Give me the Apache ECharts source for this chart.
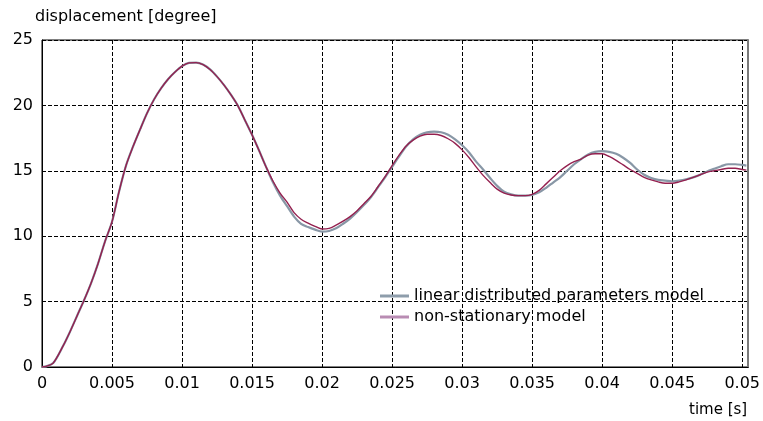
<!DOCTYPE html>
<html>
<head>
<meta charset="utf-8">
<script src="https://cdn.jsdelivr.net/npm/echarts@6/dist/echarts.min.js"></script>
<style>html,body{margin:0;padding:0;background:#fff;}#c{width:763px;height:421px;}</style>
</head>
<body>
<div id="c"></div>
<script>
// time [s]
const times = [0,0.0003,0.0008,0.0015,0.002,0.0025,0.003,0.0035,0.004,0.0045,0.005,0.0055,0.006,0.0065,0.007,0.0075,0.008,0.0085,0.009,0.0095,0.010,0.0105,0.011,0.0115,0.012,0.0125,0.013,0.0135,0.014,0.0145,0.015,0.0155,0.016,0.0165,0.017,0.0175,0.018,0.0185,0.019,0.0195,0.020,0.0205,0.021,0.0215,0.022,0.0225,0.023,0.0235,0.024,0.0245,0.025,0.0255,0.026,0.0265,0.027,0.0275,0.028,0.0285,0.029,0.0295,0.030,0.0305,0.031,0.0315,0.032,0.0325,0.033,0.0335,0.034,0.0345,0.035,0.0355,0.036,0.0365,0.037,0.0375,0.038,0.0385,0.039,0.0395,0.040,0.0405,0.041,0.0415,0.042,0.0425,0.043,0.0435,0.044,0.0445,0.045,0.0455,0.046,0.0465,0.047,0.0475,0.048,0.0485,0.049,0.0495,0.050,0.0503];
// linear distributed parameters model [degree]
const linearModel = [0,0.05,0.3,1.6,2.7,3.9,5.1,6.4,7.9,9.6,11.1,13.4,15.4,16.85,18.15,19.4,20.45,21.3,22.0,22.55,23.0,23.25,23.27,23.12,22.75,22.2,21.55,20.8,19.95,18.85,17.75,16.55,15.3,14.1,13.1,12.3,11.5,10.95,10.7,10.5,10.35,10.4,10.6,10.95,11.35,11.85,12.4,13.0,13.75,14.5,15.3,16.1,16.85,17.4,17.75,17.95,18.0,17.95,17.75,17.4,16.95,16.4,15.7,15.1,14.45,13.85,13.4,13.2,13.1,13.1,13.15,13.35,13.7,14.1,14.5,15.0,15.5,15.9,16.25,16.45,16.5,16.45,16.3,16.0,15.6,15.1,14.7,14.45,14.3,14.25,14.2,14.25,14.35,14.5,14.7,14.95,15.15,15.35,15.5,15.5,15.45,15.4];
// non-stationary model [degree]
const nonStationaryModel = [0,0.05,0.3,1.6,2.7,3.9,5.1,6.4,7.9,9.6,11.1,13.4,15.4,16.85,18.15,19.4,20.45,21.3,22.0,22.55,23.0,23.25,23.27,23.12,22.75,22.2,21.55,20.8,19.95,18.85,17.75,16.55,15.3,14.2,13.3,12.6,11.8,11.3,11.0,10.75,10.55,10.6,10.85,11.15,11.5,11.95,12.5,13.05,13.8,14.55,15.4,16.2,16.9,17.35,17.65,17.8,17.8,17.7,17.45,17.1,16.6,16.0,15.3,14.65,14.1,13.6,13.3,13.15,13.1,13.1,13.2,13.5,14.0,14.5,15.0,15.4,15.7,15.9,16.2,16.3,16.3,16.1,15.8,15.45,15.1,14.8,14.5,14.3,14.15,14.05,14.05,14.15,14.3,14.5,14.7,14.9,15.0,15.1,15.2,15.2,15.1,15.05];
const seriesNames = ['linear distributed parameters model','non-stationary model'];
const xTicks = ['0','0.005','0.01','0.015','0.02','0.025','0.03','0.035','0.04','0.045','0.05'];
const yTicks = ['0','5','10','15','20','25'];

const chart = echarts.init(document.getElementById('c'), null, {renderer:'canvas'});
const font = 'DejaVu Sans';
const pair = (ys) => times.map((t,i) => [t, ys[i]]);
chart.setOption({
  backgroundColor:'#ffffff',
  animation:false,
  title:{text:'displacement [degree]', left:35, top:9, padding:0,
    textStyle:{fontFamily:font, fontSize:16, fontWeight:'normal', color:'#000'}},
  grid:{left:42, right:12, top:40, bottom:54, show:true, borderColor:'#000', borderWidth:1, backgroundColor:'transparent'},
  legend:{
    orient:'vertical', left:380, top:288, padding:0, itemGap:5,
    icon:'rect', itemWidth:29, itemHeight:3,
    textStyle:{fontFamily:font, fontSize:16, color:'#000', lineHeight:16},
    data:[
      {name:seriesNames[0], itemStyle:{color:'#8e9dab'}},
      {name:seriesNames[1], itemStyle:{color:'#b98cb3'}}
    ]
  },
  xAxis:{
    type:'value', min:0, max:0.05043, interval:0.005,
    name:'time [s]', nameLocation:'end', nameGap:-1,
    nameTextStyle:{fontFamily:font, fontSize:15, color:'#000', align:'right', verticalAlign:'top', padding:[36,0,0,0]},
    axisLine:{show:true, lineStyle:{color:'#000', width:1}},
    axisTick:{show:true, inside:true, length:3, lineStyle:{color:'#000'}},
    axisLabel:{fontFamily:font, fontSize:16, color:'#000', margin:9, showMaxLabel:false,
      formatter:(v)=>{const k=Math.round(v/0.005); return Math.abs(v-k*0.005)<1e-7 ? xTicks[k] : '';}},
    splitLine:{show:true, lineStyle:{color:'#000', type:[4,2], width:1}}
  },
  yAxis:[{
    type:'value', min:0, max:25, interval:5,
    axisLine:{show:true, lineStyle:{color:'#000', width:1}},
    axisTick:{show:true, inside:true, length:3, lineStyle:{color:'#000'}},
    axisLabel:{fontFamily:font, fontSize:16, color:'#000', margin:9,
      formatter:(v)=>yTicks[Math.round(v/5)]},
    splitLine:{show:true, lineStyle:{color:'#000', type:[4,2], width:1}}
  },{
    type:'value', min:0, max:25, position:'right',
    axisLine:{show:true, lineStyle:{color:'#7a7a7a', width:2}},
    axisTick:{show:false}, axisLabel:{show:false}, splitLine:{show:false}
  }],
  series:[
    {name:seriesNames[0], type:'line', data:pair(linearModel), showSymbol:false, smooth:0.3,
      lineStyle:{color:'#8897a6', width:2.2}, itemStyle:{color:'#8897a6'}, z:3},
    {name:seriesNames[1], type:'line', data:pair(nonStationaryModel), showSymbol:false, smooth:0.3,
      lineStyle:{color:'#94204f', width:1.4}, itemStyle:{color:'#94204f'}, z:4}
  ]
});
</script>
</body>
</html>
